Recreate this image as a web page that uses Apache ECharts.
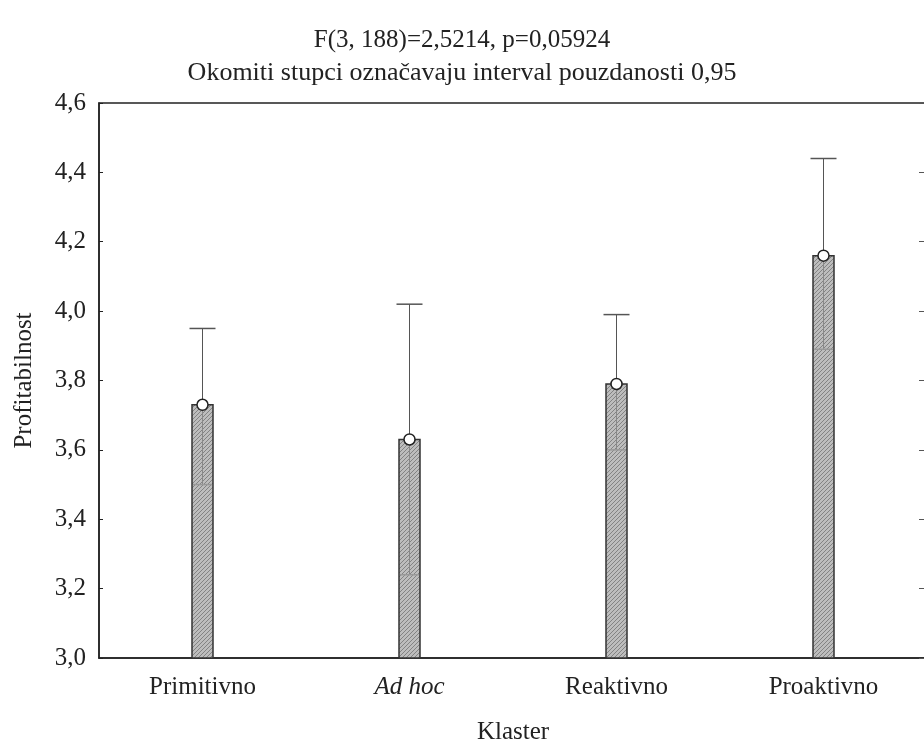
<!DOCTYPE html>
<html>
<head>
<meta charset="utf-8">
<script src="https://cdn.jsdelivr.net/npm/echarts@6/dist/echarts.min.js"></script>
<style>
  html, body { margin: 0; padding: 0; background: #fff; }
  #chart { width: 924px; height: 740px; }
</style>
</head>
<body>
<div id="chart"></div>
<script>
const categories = ['Primitivno', 'Ad hoc', 'Reaktivno', 'Proaktivno'];
const means = [3.73, 3.63, 3.79, 4.16];
const lowerCI = [3.50, 3.24, 3.60, 3.89];
const upperCI = [3.95, 4.02, 3.99, 4.44];

// hatched fill for the bars
function makeHatch() {
  const c = document.createElement('canvas');
  c.width = 4; c.height = 4;
  const ctx = c.getContext('2d');
  ctx.fillStyle = '#bdbdbd';
  ctx.fillRect(0, 0, 4, 4);
  ctx.strokeStyle = '#838383';
  ctx.lineWidth = 1;
  ctx.beginPath();
  ctx.moveTo(0, 4); ctx.lineTo(4, 0);
  ctx.moveTo(-1, 1); ctx.lineTo(1, -1);
  ctx.moveTo(3, 5); ctx.lineTo(5, 3);
  ctx.stroke();
  return c;
}
const hatch = { image: makeHatch(), repeat: 'repeat' };

const fontFam = '"Liberation Serif", "DejaVu Serif", serif';
const data = categories.map((c, i) => [i, means[i], lowerCI[i], upperCI[i]]);

let chart = echarts.init(document.getElementById('chart'));
let option = {
  backgroundColor: '#fff',
  animation: false,
  title: {
    text: 'F(3, 188)=2,5214, p=0,05924',
    subtext: 'Okomiti stupci označavaju interval pouzdanosti 0,95',
    left: 'center',
    top: 23,
    itemGap: 7,
    textStyle: { fontFamily: fontFam, fontSize: 25, fontWeight: 'normal', color: '#222' },
    subtextStyle: { fontFamily: fontFam, fontSize: 26, color: '#222' }
  },
  grid: {
    left: 99, top: 103, width: 828, height: 555,
    outerBoundsMode: 'none',
    show: true, borderColor: '#222', borderWidth: 1.5
  },
  xAxis: {
    type: 'category',
    data: categories,
    name: 'Klaster',
    nameLocation: 'middle',
    nameGap: 62,
    nameTextStyle: { fontFamily: fontFam, fontSize: 25, color: '#222' },
    axisLine: { lineStyle: { color: '#222', width: 1.5 } },
    axisTick: { show: false },
    axisLabel: {
      margin: 17,
      fontFamily: fontFam,
      fontSize: 25,
      color: '#222',
      formatter: v => v === 'Ad hoc' ? '{it|' + v + '}' : v,
      rich: { it: { fontStyle: 'italic', fontFamily: fontFam, fontSize: 25, color: '#222' } }
    },
    splitLine: { show: false }
  },
  yAxis: [{
    type: 'value',
    min: 3.0,
    max: 4.6,
    interval: 0.2,
    name: 'Profitabilnost',
    nameLocation: 'middle',
    nameGap: 62,
    nameTextStyle: { fontFamily: fontFam, fontSize: 25, color: '#222' },
    axisLine: { show: true, lineStyle: { color: '#222', width: 1.5 } },
    axisTick: { show: true, inside: true, length: 4, lineStyle: { color: '#222' } },
    axisLabel: {
      margin: 13,
      fontFamily: fontFam,
      fontSize: 25,
      color: '#222',
      formatter: v => v.toFixed(1).replace('.', ',')
    },
    splitLine: { show: false }
  }, {
    type: 'value',
    min: 3.0,
    max: 4.6,
    interval: 0.2,
    position: 'right',
    axisLine: { show: true, lineStyle: { color: '#222', width: 1.5 } },
    axisTick: { show: true, inside: true, length: 8, lineStyle: { color: '#555' } },
    axisLabel: { show: false },
    splitLine: { show: false }
  }],
  series: [{
    type: 'custom',
    data: data,
    renderItem: function (params, api) {
      const i = api.value(0);
      const pMean = api.coord([i, api.value(1)]);
      const pLo = api.coord([i, api.value(2)]);
      const pHi = api.coord([i, api.value(3)]);
      const pBase = api.coord([i, 3.0]);
      const bw = 21, cw = 26, x = pMean[0];
      return {
        type: 'group',
        children: [
          { type: 'rect',
            shape: { x: x - bw / 2, y: pMean[1], width: bw, height: pBase[1] - pMean[1] },
            style: { fill: hatch, stroke: '#333', lineWidth: 1.5 } },
          // lower whisker inside the bar
          { type: 'line', shape: { x1: x, y1: pMean[1], x2: x, y2: pLo[1] },
            style: { stroke: '#888', lineWidth: 1 } },
          { type: 'line', shape: { x1: x - bw / 2 + 1, y1: pLo[1], x2: x + bw / 2 - 1, y2: pLo[1] },
            style: { stroke: '#999', lineWidth: 1.5 } },
          // upper whisker
          { type: 'line', shape: { x1: x, y1: pMean[1], x2: x, y2: pHi[1] },
            style: { stroke: '#555', lineWidth: 1 } },
          { type: 'line', shape: { x1: x - cw / 2, y1: pHi[1], x2: x + cw / 2, y2: pHi[1] },
            style: { stroke: '#555', lineWidth: 1.5 } },
          { type: 'circle', shape: { cx: x, cy: pMean[1], r: 5.5 },
            style: { fill: '#fff', stroke: '#222', lineWidth: 1.5 } }
        ]
      };
    }
  }]
};
chart.setOption(option);
</script>
</body>
</html>
